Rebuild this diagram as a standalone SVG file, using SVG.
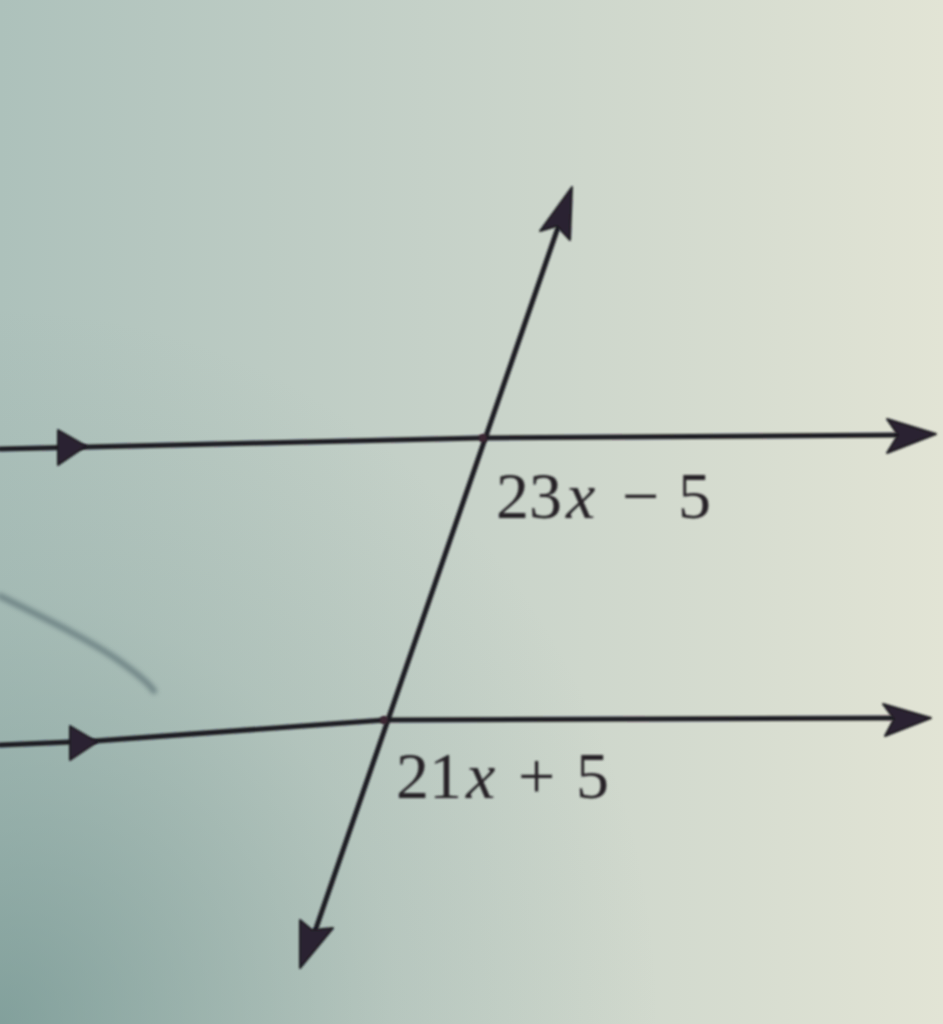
<svg xmlns="http://www.w3.org/2000/svg" width="943" height="1024" viewBox="0 0 943 1024">
<defs>
<linearGradient id="bgH" x1="0" y1="0" x2="1" y2="0">
<stop offset="0" stop-color="#adc1bb"/>
<stop offset="0.45" stop-color="#c5d1c8"/>
<stop offset="1" stop-color="#e2e4d5"/>
</linearGradient>
<radialGradient id="bgBL" cx="0" cy="1" r="0.7">
<stop offset="0" stop-color="#5f8582" stop-opacity="0.55"/>
<stop offset="0.6" stop-color="#6f918d" stop-opacity="0.15"/>
<stop offset="1" stop-color="#6f918d" stop-opacity="0"/>
</radialGradient>
<filter id="blur"><feGaussianBlur stdDeviation="1"/></filter>
<filter id="blur2"><feGaussianBlur stdDeviation="2.5"/></filter>
<style>
.ln{fill:none;stroke:#1f1c22;stroke-width:5;stroke-linecap:round;stroke-linejoin:round}
.ah{fill:#2c2030;stroke:#1f1c22;stroke-width:2;stroke-linejoin:round}
</style>
</defs>
<rect width="943" height="1024" fill="url(#bgH)"/>
<rect width="943" height="1024" fill="url(#bgBL)"/>
<path d="M0 596 C40 616 90 640 118 660 C135 672 148 682 154 691" fill="none" stroke="#52686d" stroke-width="6" stroke-linecap="round" opacity="0.65" filter="url(#blur2)"/>
<g id="connectors" filter="url(#blur)">
<path class="ln" d="M0 449 L480 438 L900 435"/>
<path class="ln" d="M0 745 L95 741 L385 720 L895 718"/>
<path class="ln" d="M563 213 L312 940"/>
</g>
<g id="arrowheads" filter="url(#blur)">
<path class="ah" d="M936 434 L887 419 L898 435 L887 453 Z"/>
<path class="ah" d="M931 718 L883 704 L894 719 L885 736 Z"/>
<path class="ah" d="M572 187 L540 231 L557 226 L570 240 Z"/>
<path class="ah" d="M300 968 L300 920 L312 930 L333 928 Z"/>
<path class="ah" d="M86 446 L58 430 L58 465 Z"/>
<path class="ah" d="M97 742 L70 726 L70 760 Z"/>
</g>
<g id="points" filter="url(#blur)">
<circle cx="483" cy="438" r="4" fill="#3a2533"/>
<circle cx="384" cy="720" r="4" fill="#3a2533"/>
</g>
<g id="label-top" filter="url(#blur)">
<text font-family="Liberation Serif, serif" font-size="66" fill="#262428" y="518"><tspan x="496">23</tspan><tspan font-style="italic" x="566">x</tspan><tspan x="622">−</tspan><tspan x="678">5</tspan></text>
</g>
<g id="label-bottom" filter="url(#blur)">
<text font-family="Liberation Serif, serif" font-size="66" fill="#262428" y="798"><tspan x="396">21</tspan><tspan font-style="italic" x="466">x</tspan><tspan x="518">+</tspan><tspan x="576">5</tspan></text>
</g>
</svg>
